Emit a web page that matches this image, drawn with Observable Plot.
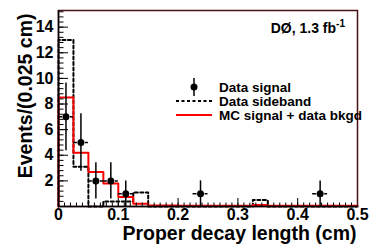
<!DOCTYPE html>
<html><head><meta charset="utf-8">
<script src="https://cdn.jsdelivr.net/npm/d3@7"></script>
<script src="https://cdn.jsdelivr.net/npm/@observablehq/plot@0.6"></script>
<style>
body{margin:0;background:#fff}
svg{font-family:"Liberation Sans",Arial,sans-serif;font-weight:bold}
</style>
</head><body><div id="chart"></div>
<script>
// bin lower edges (cm), bin width 0.025
const binLo = [0,0.025,0.05,0.075,0.1,0.125,0.15,0.175,0.2,0.225,0.25,0.275,0.3,0.325,0.35,0.375,0.4,0.425,0.45,0.475];
const binHi = 0.5;
// Data sideband (dashed histogram)
const sideband = [13,3.1,0,0.4,0.4,1.1,0,0,0,0,0,0,0,0.5,0,0,0,0,0,0];
// MC signal + data bkgd (red histogram)
const mcBkgd = [8.5,4.2,2.7,1.8,0.75,0.22,0.08,0.08,0.05,0.05,0.05,0.05,0.06,0.12,0.05,0.05,0.05,0.05,0.05,0.05];
// Data signal points
const sigX = [0.0125,0.0375,0.0625,0.0875,0.1125,0.2375,0.4375];
const sigY = [7,5,2,2,1,1,1];
const sigErr = [2.65,2.24,1.41,1.41,1,1,1];
const halfBin = 0.0125;
// ticks
const xMajor = [0,0.1,0.2,0.3,0.4,0.5];
const xLabels = ["0","0.1","0.2","0.3","0.4","0.5"];
const yMajor = [2,4,6,8,10,12,14];
const yLabels = ["2","4","6","8","10","12","14"];
const xMinor = d3.range(0, 0.5001, 0.01);
const yMinor = d3.range(0, 15.3, 0.4);
const legendLabels = ["Data signal", "Data sideband", "MC signal + data bkgd"];

function steps(vals){
  const s = [{x: binLo[0], y: 0}];
  binLo.forEach((x,i)=> s.push({x, y: vals[i]}));
  s.push({x: binHi, y: vals[vals.length-1]});
  return s;
}
const sig = sigX.map((x,i)=>({x, y: sigY[i], e: sigErr[i]}));

const W = 370, H = 245, mL = 58, mR = 13, mT = 10, mB = 39;
const innerW = W - mL - mR, innerH = H - mT - mB;
const FS = 16;

const plot = Plot.plot({
  width: W, height: H,
  marginLeft: mL, marginRight: mR, marginTop: mT, marginBottom: mB,
  x: {domain: [0, 0.5]},
  y: {domain: [0, 15.3]},
  style: {fontFamily: '"Liberation Sans",Arial,sans-serif', fontWeight: "bold", background: "#fff"},
  marks: [
    Plot.line(steps(sideband), {x: "x", y: "y", curve: "step-after", stroke: "black", strokeWidth: 2, strokeDasharray: "3,2.5"}),
    Plot.line(steps(mcBkgd), {x: "x", y: "y", curve: "step-after", stroke: "#ff0000", strokeWidth: 2}),
    Plot.ruleX(sig, {x: "x", y1: d => Math.max(0, d.y - d.e), y2: d => d.y + d.e, stroke: "black", strokeWidth: 1.5}),
    Plot.ruleY(sig, {y: "y", x1: d => d.x - halfBin, x2: d => d.x + halfBin, stroke: "black", strokeWidth: 1.5, strokeDasharray: "4,2"}),
    Plot.dot(sig, {x: "x", y: "y", r: 3.5, fill: "black"}),
    // inward ticks
    Plot.axisX(xMajor, {anchor: "top", tickSize: 9, text: null, tickFormat: () => "", dy: innerH, label: null, stroke: "black"}),
    Plot.axisX(xMinor, {anchor: "top", tickSize: 4.5, text: null, tickFormat: () => "", dy: innerH, label: null, stroke: "black"}),
    Plot.axisY(yMajor, {anchor: "right", tickSize: 9, text: null, tickFormat: () => "", dx: -innerW, label: null, stroke: "black"}),
    Plot.axisY(yMinor, {anchor: "right", tickSize: 4.5, text: null, tickFormat: () => "", dx: -innerW, label: null, stroke: "black"}),
    // labels
    Plot.axisX(xMajor, {tickSize: 0, tickPadding: 2, tickFormat: (d,i) => xLabels[i], fontSize: FS, fill: "black", label: null}),
    Plot.axisY(yMajor, {tickSize: 0, tickPadding: 5, tickFormat: (d,i) => yLabels[i], fontSize: FS, fill: "black", label: null}),
    Plot.frame({stroke: "#4a1212", strokeWidth: 1.5}),
    Plot.ruleX([0], {stroke: "black", strokeWidth: 1.5}),
    Plot.ruleY([0], {stroke: "black", strokeWidth: 1.5}),
    Plot.text(["Proper decay length (cm)"], {frameAnchor: "bottom-right", dy: 33, dx: -1, textAnchor: "end", fontSize: 19.5, fill: "black"}),
    Plot.text(["Events/(0.025 cm)"], {frameAnchor: "top-left", rotate: -90, dx: -40, dy: 3, textAnchor: "end", fontSize: 19.5, fill: "black"})
  ]
});
document.getElementById("chart").appendChild(plot);

// remove empty tick-label texts
d3.select(plot).selectAll("text").filter(function(){ return this.textContent === ""; }).remove();

// legend + label
const svg = d3.select(plot);
const g = svg.append("g").attr("font-size", 13.5).attr("font-weight", "bold").attr("fill", "black").attr("text-anchor", "start");
const rows = [87, 101, 115];
const mx = 194;
g.append("line").attr("x1", mx).attr("x2", mx).attr("y1", rows[0]-9).attr("y2", rows[0]+9).attr("stroke", "black").attr("stroke-width", 1.5);
g.append("circle").attr("cx", mx).attr("cy", rows[0]).attr("r", 3.5).attr("fill", "black");
g.append("line").attr("x1", 176).attr("x2", 212).attr("y1", rows[1]).attr("y2", rows[1]).attr("stroke", "black").attr("stroke-width", 2).attr("stroke-dasharray", "3,2.5");
g.append("line").attr("x1", 176).attr("x2", 212).attr("y1", rows[2]).attr("y2", rows[2]).attr("stroke", "#ff0000").attr("stroke-width", 2);
legendLabels.forEach((t,i) => {
  g.append("text").attr("x", 219).attr("y", rows[i]).attr("dy", "0.36em").text(t);
});
const lab = svg.append("text").attr("x", 345).attr("y", 33).attr("text-anchor", "end").attr("font-size", 14).attr("font-weight", "bold").attr("fill", "black");
lab.append("tspan").text("DØ, 1.3 fb");
lab.append("tspan").attr("font-size", 10).attr("dy", -6).text("-1");
</script>
</body></html>
